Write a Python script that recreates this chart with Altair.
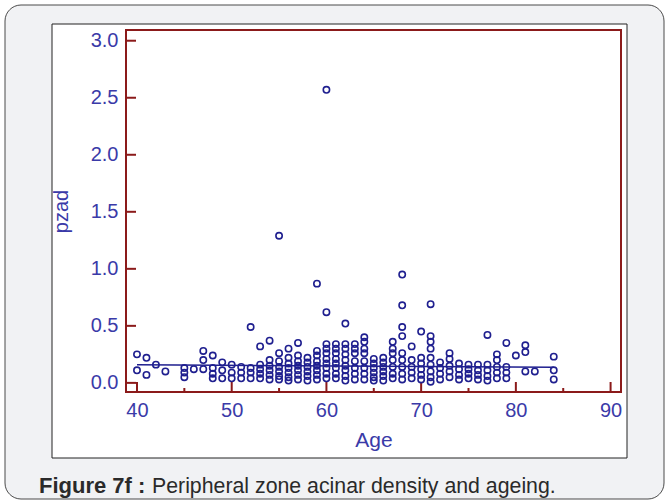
import altair as alt
import pandas as pd

# ---- data ----
ages = (
    [40, 40] + [41, 41] + [42] + [43] + [45, 45, 45] + [46] + [47, 47, 47] +
    [48] * 4 + [49] * 3 + [50] * 3 + [51] * 3 + [52] * 4 + [53] * 5 + [54] * 6 +
    [55] * 7 + [56] * 7 + [57] * 7 + [58] * 6 + [59] * 8 + [60] * 10 + [61] * 8 +
    [62] * 9 + [63] * 7 + [64] * 8 + [65] * 6 + [66] * 6 + [67] * 7 + [68] * 9 +
    [69] * 5 + [70] * 6 + [71] * 9 + [72] * 4 + [73] * 5 + [74] * 4 + [75] * 4 +
    [76] * 4 + [77] * 5 + [78] * 5 + [79] * 4 + [80] + [81] * 3 + [82] + [84] * 3
)
pzad = [
    0.25, 0.11,
    0.22, 0.07,
    0.16,
    0.10,
    0.13, 0.09, 0.05,
    0.12,
    0.28, 0.20, 0.12,
    0.24, 0.13, 0.08, 0.04,
    0.18, 0.11, 0.04,
    0.16, 0.09, 0.04,
    0.14, 0.09, 0.04,
    0.49, 0.13, 0.09, 0.04,
    0.32, 0.16, 0.12, 0.08, 0.04,
    0.37, 0.20, 0.15, 0.11, 0.07, 0.03,
    1.29, 0.26, 0.19, 0.14, 0.10, 0.06, 0.03,
    0.30, 0.22, 0.17, 0.13, 0.09, 0.05, 0.02,
    0.35, 0.24, 0.19, 0.15, 0.11, 0.07, 0.03,
    0.22, 0.18, 0.14, 0.10, 0.06, 0.02,
    0.87, 0.28, 0.24, 0.19, 0.15, 0.11, 0.07, 0.03,
    2.57, 0.62, 0.34, 0.30, 0.26, 0.21, 0.17, 0.13, 0.08, 0.04,
    0.34, 0.30, 0.26, 0.21, 0.17, 0.13, 0.08, 0.04,
    0.52, 0.34, 0.30, 0.25, 0.20, 0.15, 0.11, 0.06, 0.02,
    0.34, 0.30, 0.26, 0.19, 0.13, 0.08, 0.03,
    0.40, 0.36, 0.30, 0.26, 0.19, 0.13, 0.08, 0.03,
    0.21, 0.17, 0.13, 0.09, 0.05, 0.02,
    0.22, 0.18, 0.14, 0.10, 0.06, 0.02,
    0.36, 0.30, 0.26, 0.20, 0.14, 0.08, 0.04,
    0.95, 0.68, 0.49, 0.41, 0.26, 0.20, 0.14, 0.08, 0.03,
    0.32, 0.20, 0.14, 0.09, 0.04,
    0.45, 0.22, 0.17, 0.12, 0.07, 0.03,
    0.69, 0.41, 0.36, 0.30, 0.22, 0.16, 0.10, 0.05, 0.01,
    0.18, 0.13, 0.08, 0.03,
    0.26, 0.21, 0.15, 0.10, 0.05,
    0.17, 0.12, 0.07, 0.03,
    0.16, 0.12, 0.08, 0.04,
    0.16, 0.11, 0.07, 0.03,
    0.42, 0.16, 0.11, 0.06, 0.02,
    0.25, 0.20, 0.14, 0.09, 0.04,
    0.35, 0.14, 0.09, 0.04,
    0.24,
    0.33, 0.27, 0.10,
    0.10,
    0.23, 0.11, 0.03,
]

fit_age = [40, 84]
fit_pzad = [0.158, 0.137]

x_major = [40, 50, 60, 70, 80, 90]
x_minor = [45, 55, 65, 75, 85]
y_ticks = [0.0, 0.5, 1.0, 1.5, 2.0, 2.5, 3.0]

caption_bold = "Figure 7f :"
caption_text = "Peripheral zone acinar density and ageing."

# ---- styling ----
W, H = 495, 362
LEFT, TOP = 126, 30
RED = "#8b1a1a"
NAVY = "#1f1f8f"
LABEL = "#3a3aa8"
FONT = "Liberation Sans"

pts = pd.DataFrame({"Age": ages, "pzad": pzad})
fit = pd.DataFrame({"Age": fit_age, "pzad": fit_pzad})
one = pd.DataFrame({"k": [0]})

xs = alt.Scale(domain=[38.84, 91.1], nice=False, zero=False)
ys = alt.Scale(domain=[-0.08, 3.094], nice=False, zero=False)

frame = alt.Chart(one).mark_rect(
    fill="#f1f2f4", stroke="#4a4a4a", strokeWidth=1, cornerRadius=16
).encode(
    x=alt.value(5 - LEFT), x2=alt.value(664 - LEFT),
    y=alt.value(5 - TOP), y2=alt.value(499 - TOP),
)

panel = alt.Chart(one).mark_rect(
    fill="white", stroke="#222222", strokeWidth=1
).encode(
    x=alt.value(52 - LEFT), x2=alt.value(627 - LEFT),
    y=alt.value(24 - TOP), y2=alt.value(458 - TOP),
)

border = alt.Chart(one).mark_rect(
    fill="white", fillOpacity=0, stroke=RED, strokeWidth=2
).encode(
    x=alt.value(0), x2=alt.value(W), y=alt.value(0), y2=alt.value(H)
)

xmaj = alt.Chart(pd.DataFrame({"v": x_major})).mark_rule(
    color=RED, strokeWidth=2
).encode(x=alt.X("v:Q", scale=xs), y=alt.value(H), y2=alt.value(H - 10))

xmin = alt.Chart(pd.DataFrame({"v": x_minor})).mark_rule(
    color=RED, strokeWidth=2
).encode(x=alt.X("v:Q", scale=xs), y=alt.value(H), y2=alt.value(H - 4))

ytk = alt.Chart(pd.DataFrame({"v": y_ticks})).mark_rule(
    color=RED, strokeWidth=2
).encode(y=alt.Y("v:Q", scale=ys), x=alt.value(0), x2=alt.value(10))

points = alt.Chart(pts).mark_point(
    shape="circle", filled=False, size=40, strokeWidth=1.6, color=NAVY, opacity=1
).encode(
    x=alt.X("Age:Q", scale=xs,
            axis=alt.Axis(values=x_major, title="Age", ticks=False, domain=False,
                          grid=False, labelPadding=8, labelFontSize=20,
                          labelColor=LABEL, labelFont=FONT, titleFont=FONT,
                          titleFontSize=21, titleFontWeight="normal",
                          titleColor=LABEL, titleX=W / 2, titleY=37,
                          titleBaseline="top", zindex=1)),
    y=alt.Y("pzad:Q", scale=ys,
            axis=alt.Axis(values=y_ticks, format=".1f", title="pzad", ticks=False,
                          domain=False, grid=False, labelPadding=8,
                          labelFontSize=20, labelColor=LABEL, labelFont=FONT,
                          titleFont=FONT, titleFontSize=20,
                          titleFontWeight="normal", titleColor=LABEL,
                          titleAngle=270, titleX=-55, titleY=H / 2,
                          titleAlign="center", titleBaseline="bottom", zindex=1)),
)

line = alt.Chart(fit).mark_line(color=NAVY, strokeWidth=1.5).encode(
    x=alt.X("Age:Q", scale=xs), y=alt.Y("pzad:Q", scale=ys)
)

cap1 = alt.Chart(pd.DataFrame({"t": [caption_bold]})).mark_text(
    align="left", baseline="alphabetic", font=FONT, fontSize=22,
    fontWeight="bold", color="#2a2a2a"
).encode(text="t:N", x=alt.value(39 - LEFT), y=alt.value(493 - TOP))

cap2 = alt.Chart(pd.DataFrame({"t": [caption_text]})).mark_text(
    align="left", baseline="alphabetic", font=FONT, fontSize=21.3,
    color="#2a2a2a"
).encode(text="t:N", x=alt.value(152 - LEFT), y=alt.value(493 - TOP))

chart = alt.layer(
    frame, panel, xmaj, xmin, ytk, border, line, points, cap1, cap2
).properties(
    width=W, height=H,
    autosize=alt.AutoSizeParams(type="none"),
    padding={"left": LEFT, "top": TOP, "right": 667 - LEFT - W, "bottom": 504 - TOP - H},
    background="white",
).configure_view(strokeWidth=0)

chart.save("out.html", embed_options={"renderer": "svg", "actions": False})
